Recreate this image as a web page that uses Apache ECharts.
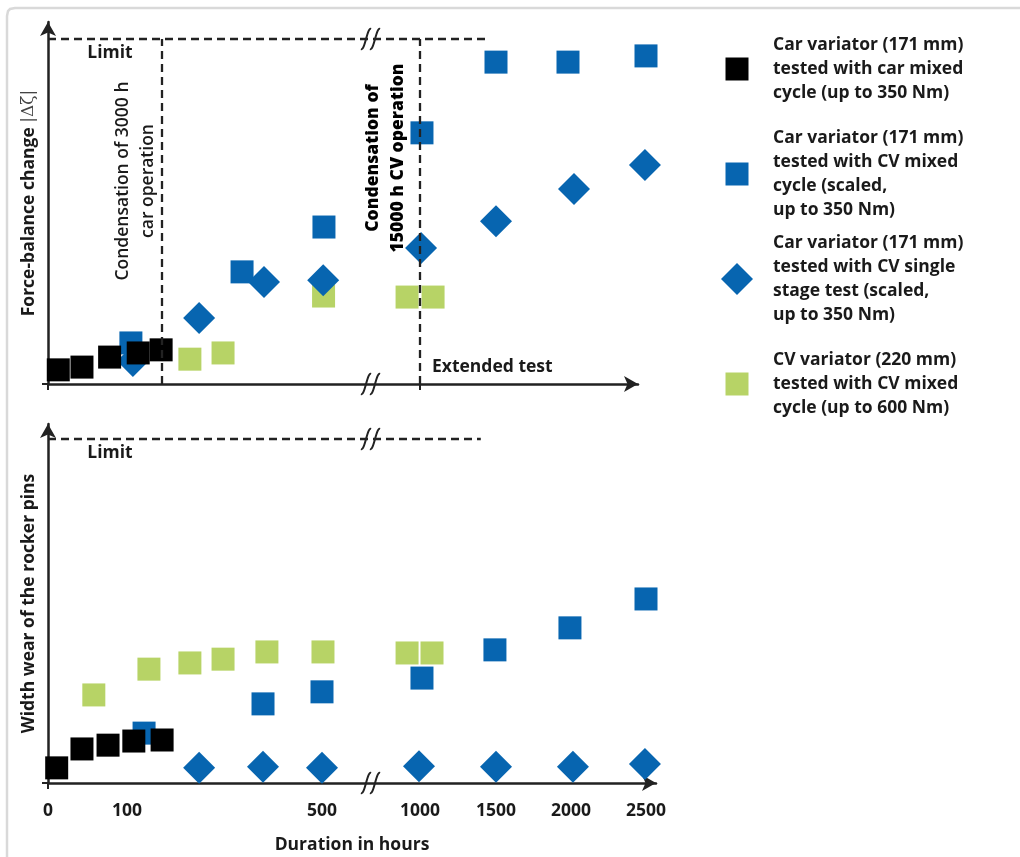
<!DOCTYPE html>
<html><head><meta charset="utf-8">
<script src="https://cdn.jsdelivr.net/npm/echarts@6/dist/echarts.min.js"></script>
<style>html,body{margin:0;padding:0;background:#fff;overflow:hidden}#c{width:1020px;height:857px}</style>
</head><body><div id="c"></div>
<script>
// ---------- DATA ----------
const hourTicks = [0, 100, 500, 1000, 1500, 2000, 2500];
const tickLabels = ['0', '100', '500', '1000', '1500', '2000', '2500'];
const seriesNames = [
  'Car variator (171 mm)\ntested with car mixed\ncycle (up to 350 Nm)',
  'Car variator (171 mm)\ntested with CV mixed\ncycle (scaled,\nup to 350 Nm)',
  'Car variator (171 mm)\ntested with CV single\nstage test (scaled,\nup to 350 Nm)',
  'CV variator (220 mm)\ntested with CV mixed\ncycle (up to 600 Nm)'
];
// Top panel: force-balance change (limit = 100)
const carMixedTopHours = [13, 43, 78, 123, 170];
const carMixedTopValues = [4.1, 4.9, 7.8, 9.0, 9.9];
const cvMixedTopHours = [108, 336, 510, 1013, 1500, 1980, 2500];
const cvMixedTopValues = [11.9, 32.5, 45.5, 72.8, 93.3, 93.3, 95.1];
const singleStageTopHours = [112, 248, 381, 506, 1007, 1500, 2020, 2493];
const singleStageTopValues = [6.7, 19.1, 29.6, 30.1, 39.4, 47.2, 56.5, 63.5];
const cvVariatorTopHours = [229, 297, 508, 934, 1086];
const cvVariatorTopValues = [7.2, 9.0, 25.5, 25.2, 25.2];
// Bottom panel: width wear of the rocker pins (limit = 100)
const carMixedBottomHours = [11, 43, 76, 114, 172];
const carMixedBottomValues = [4.4, 9.9, 11.0, 12.2, 12.5];
const cvMixedBottomHours = [135, 379, 500, 1013, 1493, 1993, 2500];
const cvMixedBottomValues = [14.5, 23.0, 26.5, 30.5, 38.7, 45.1, 53.5];
const singleStageBottomHours = [248, 379, 500, 995, 1500, 2013, 2493];
const singleStageBottomValues = [4.4, 4.7, 4.4, 4.9, 4.7, 4.7, 5.5];
const cvVariatorBottomHours = [58, 145, 229, 297, 387, 505, 934, 1079];
const cvVariatorBottomValues = [25.6, 33.1, 34.9, 36.0, 38.1, 38.1, 37.8, 37.8];
// Reference lines
const limitValue = 100;
const carCondensationHours = 172;   // condensation of 3000 h car operation
const cvCondensationHours = 1000;   // condensation of 15000 h CV operation
const axisBreakHours = 745;

// ---------- LAYOUT (broken, piecewise axis) ----------
const tickPos = [0, 79, 274, 372, 448, 523, 598];
function toAxis(h) {
  for (let i = 0; i < hourTicks.length - 1; i++) {
    if (h <= hourTicks[i + 1] || i === hourTicks.length - 2) {
      const t = (h - hourTicks[i]) / (hourTicks[i + 1] - hourTicks[i]);
      return tickPos[i] + t * (tickPos[i + 1] - tickPos[i]);
    }
  }
}
const pts = (hs, vs) => hs.map((h, i) => [toAxis(h), vs[i]]);

const FONT = '"Open Sans"';
const FS = 17.5;
const TXT = '#1a1a1a';
const BLACK = '#000000', BLUE = '#0765b0', GREEN = '#b7d366';
const AX = '#222222';

const colors = [BLACK, BLUE, BLUE, GREEN];
const symbols = ['rect', 'rect', 'diamond', 'rect'];
const sizes = [23, 23, 32, 23];

function scatter(idx, grid, data) {
  return {
    type: 'scatter', name: seriesNames[idx], xAxisIndex: grid, yAxisIndex: grid,
    symbol: symbols[idx], symbolSize: sizes[idx], data: data, clip: false,
    itemStyle: { color: colors[idx], opacity: 1 }, silent: true,
    z: idx === 0 ? 4 : (idx === 2 ? 3 : (idx === 1 ? 2.5 : 2))
  };
}

const dash = { color: AX, width: 2.3, type: [8, 5] };
function guides(grid, lines) {
  return {
    type: 'scatter', xAxisIndex: grid, yAxisIndex: grid, data: [], silent: true, z: 6,
    markLine: { symbol: ['none', 'none'], silent: true, animation: false, z: 6,
      label: { show: false }, lineStyle: dash, data: lines }
  };
}
function breaks(grid) {
  return {
    type: 'custom', xAxisIndex: grid, yAxisIndex: grid, silent: true, clip: false, z: 7,
    data: [[toAxis(axisBreakHours), 0], [toAxis(axisBreakHours), limitValue]],
    renderItem: function (params, api) {
      const p = api.coord([api.value(0), api.value(1)]);
      const mk = dx => ({
        type: 'bezierCurve',
        shape: { x1: p[0] + dx - 5, y1: p[1] + 10, cpx1: p[0] + dx - 1, cpy1: p[1] + 12,
                 cpx2: p[0] + dx + 1, cpy2: p[1] - 12, x2: p[0] + dx + 5, y2: p[1] - 10 },
        style: { stroke: AX, lineWidth: 2, fill: null }
      });
      return { type: 'group', children: [mk(-4), mk(5)] };
    }
  };
}

const vx1 = toAxis(carCondensationHours), vx2 = toAxis(cvCondensationHours);

const axisLineStyle = { show: true, symbol: ['none', 'arrow'], symbolSize: [12, 14],
  lineStyle: { color: AX, width: 2.5 } };

const option = {
  animation: false,
  backgroundColor: '#ffffff',
  grid: [
    { left: 48, top: 22, width: 590, height: 362 },
    { left: 48, top: 424, width: 608, height: 359 }
  ],
  xAxis: [
    { type: 'value', gridIndex: 0, min: 0, max: 590, axisLine: axisLineStyle,
      splitLine: { show: false }, axisLabel: { show: false },
      axisTick: { show: true, customValues: [0, vx2], length: 6, lineStyle: { color: AX, width: 2 } } },
    { type: 'value', gridIndex: 1, min: 0, max: 608, axisLine: axisLineStyle,
      splitLine: { show: false },
      axisTick: { show: true, customValues: [0], length: 6, lineStyle: { color: AX, width: 2 } },
      axisLabel: { customValues: tickPos, margin: 19, fontFamily: FONT, fontSize: FS, fontWeight: 'bold', color: TXT,
        formatter: v => { const i = tickPos.findIndex(t => Math.abs(t - v) < 0.01); return i >= 0 ? tickLabels[i] : ''; } },
      name: 'Duration in hours', nameLocation: 'middle', nameGap: 53,
      nameTextStyle: { fontFamily: FONT, fontSize: FS, fontWeight: 'bold', color: TXT } }
  ],
  yAxis: [
    { type: 'value', gridIndex: 0, min: 0, max: 362 / 3.45, axisLine: axisLineStyle,
      splitLine: { show: false }, axisLabel: { show: false },
      axisTick: { show: true, customValues: [0], length: 6, lineStyle: { color: AX, width: 2 } },
      name: 'Force-balance change {m||Δζ|}', nameLocation: 'middle', nameGap: 10, nameRotate: 90,
      nameTextStyle: { fontFamily: FONT, fontSize: FS, fontWeight: 'bold', color: TXT,
        rich: { m: { fontFamily: 'DejaVu Serif', fontSize: 17, fontWeight: 'normal', color: '#444' } } } },
    { type: 'value', gridIndex: 1, min: 0, max: 359 / 3.44, axisLine: axisLineStyle,
      splitLine: { show: false }, axisLabel: { show: false },
      axisTick: { show: true, customValues: [0], length: 6, lineStyle: { color: AX, width: 2 } },
      name: 'Width wear of the rocker pins', nameLocation: 'middle', nameGap: 10, nameRotate: 90,
      nameTextStyle: { fontFamily: FONT, fontSize: FS, fontWeight: 'bold', color: TXT } }
  ],
  legend: [
    { left: 725.5, top: 27, pad: [12, 0, 0, 19.5], i: 0 },
    { left: 725.5, top: 121, pad: [0, 0, 10, 19.5], i: 1 },
    { left: 721, top: 229, pad: [4, 0, 0, 15], i: 2 },
    { left: 725.5, top: 348, pad: [0, 0, 0, 19.5], i: 3 }
  ].map(l => ({
    left: l.left, top: l.top, orient: 'vertical', padding: 0, selectedMode: false,
    itemWidth: sizes[l.i], itemHeight: sizes[l.i],
    data: [{ name: seriesNames[l.i], icon: symbols[l.i] }],
    textStyle: { fontFamily: FONT, fontSize: FS, fontWeight: 'bold', color: TXT, lineHeight: 24, padding: l.pad }
  })),
  graphic: [
    { type: 'polyline', shape: { points: [[7, 870], [7, 16], [8, 11], [10, 9], [15, 8], [1030, 8]] },
      style: { fill: null, stroke: '#d9d9d9', lineWidth: 2.5 }, z: -10, silent: true },
    { type: 'text', x: 110, y: 53, style: { text: 'Limit', align: 'center', verticalAlign: 'middle',
      fontFamily: FONT, fontSize: FS, fontWeight: 'bold', fill: TXT } },
    { type: 'text', x: 110, y: 453, style: { text: 'Limit', align: 'center', verticalAlign: 'middle',
      fontFamily: FONT, fontSize: FS, fontWeight: 'bold', fill: TXT } },
    { type: 'text', x: 136, y: 181, rotation: Math.PI / 2,
      style: { text: 'Condensation of 3000 h\ncar operation', align: 'center', verticalAlign: 'middle',
        lineHeight: 25, fontFamily: FONT, fontSize: FS, fontWeight: 600, fill: TXT } },
    { type: 'text', x: 386, y: 158, rotation: Math.PI / 2,
      style: { text: 'Condensation of\n15000 h CV operation', align: 'center', verticalAlign: 'middle',
        lineHeight: 25, fontFamily: FONT, fontSize: FS, fontWeight: 800, fill: '#000' } },
    { type: 'text', x: 432, y: 367, style: { text: 'Extended test', align: 'left', verticalAlign: 'middle',
      fontFamily: FONT, fontSize: FS, fontWeight: 'bold', fill: TXT } }
  ],
  series: [
    scatter(3, 0, pts(cvVariatorTopHours, cvVariatorTopValues)),
    scatter(1, 0, pts(cvMixedTopHours, cvMixedTopValues)),
    scatter(2, 0, pts(singleStageTopHours, singleStageTopValues)),
    scatter(0, 0, pts(carMixedTopHours, carMixedTopValues)),
    scatter(3, 1, pts(cvVariatorBottomHours, cvVariatorBottomValues)),
    scatter(1, 1, pts(cvMixedBottomHours, cvMixedBottomValues)),
    scatter(2, 1, pts(singleStageBottomHours, singleStageBottomValues)),
    scatter(0, 1, pts(carMixedBottomHours, carMixedBottomValues)),
    guides(0, [
      [{ coord: [0, limitValue] }, { coord: [toAxis(1450), limitValue] }],
      [{ coord: [vx1, 0] }, { coord: [vx1, limitValue] }],
      [{ coord: [vx2, 0] }, { coord: [vx2, limitValue] }]
    ]),
    guides(1, [
      [{ coord: [0, limitValue] }, { coord: [toAxis(1400), limitValue] }],
      [{ coord: [vx1, -4] }, { coord: [vx1, 102.5] }],
      [{ coord: [vx2, -1.2] }, { coord: [vx2, limitValue] }]
    ]),
    breaks(0),
    breaks(1)
  ]
};

const chart = echarts.init(document.getElementById('c'), null, { renderer: 'canvas' });
chart.setOption(option);
</script>
</body></html>
